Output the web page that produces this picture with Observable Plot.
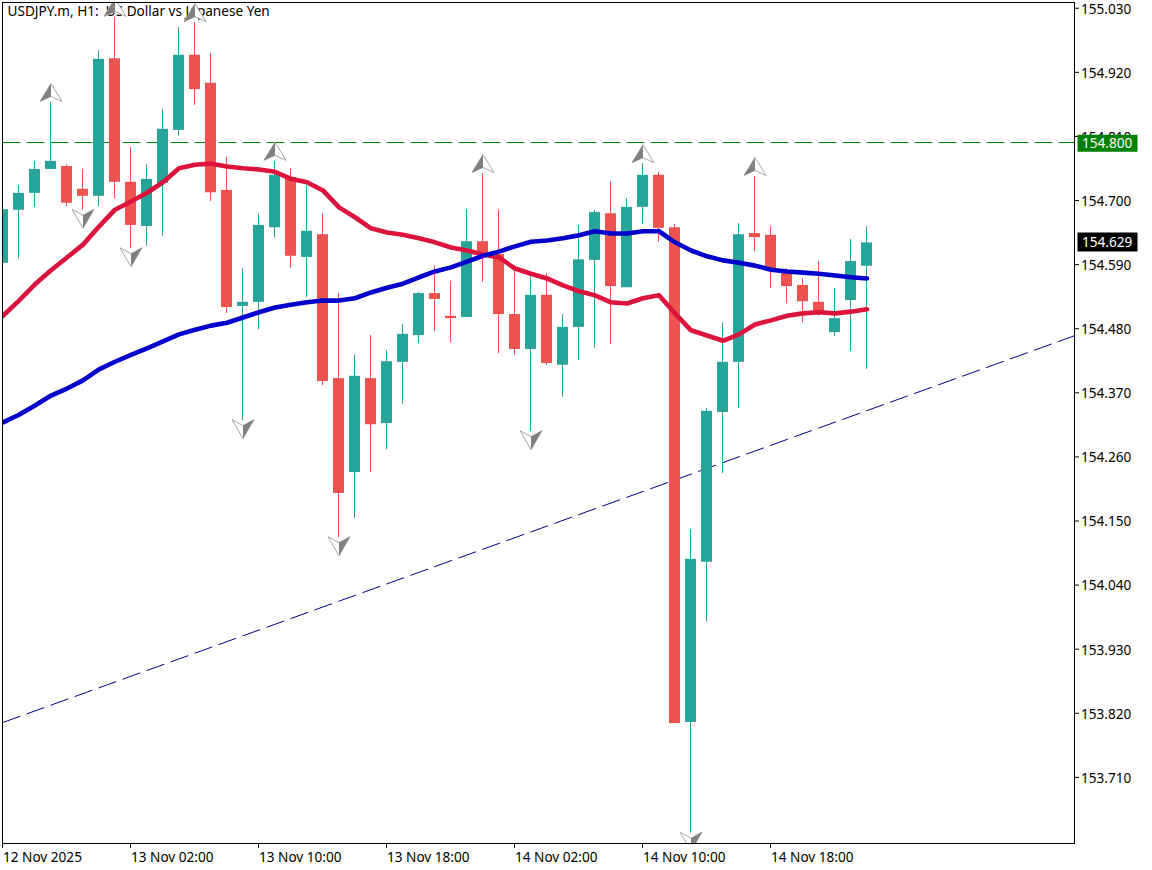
<!DOCTYPE html>
<html><head><meta charset="utf-8">
<style>html,body{margin:0;padding:0;background:#fff}svg{display:block}</style>
<script src="https://cdn.jsdelivr.net/npm/d3@7"></script>
<script src="https://cdn.jsdelivr.net/npm/@observablehq/plot@0.6"></script>
</head><body><div id="c"></div>
<script>
const open=[154.594,154.685,154.714,154.755,154.760,154.721,154.709,154.945,154.733,154.657,154.731,154.822,154.951,154.903,154.719,154.520,154.527,154.655,154.741,154.604,154.643,154.396,154.235,154.396,154.319,154.424,154.470,154.542,154.503,154.501,154.631,154.609,154.506,154.446,154.539,154.419,154.484,154.599,154.679,154.552,154.690,154.745,154.655,153.806,154.081,154.338,154.424,154.645,154.642,154.582,154.556,154.527,154.475,154.530,154.589];
const high=[154.702,154.727,154.769,154.870,154.763,154.755,154.959,155.016,154.793,154.763,154.858,154.999,155.007,154.954,154.776,154.585,154.678,154.769,154.757,154.727,154.679,154.542,154.437,154.470,154.444,154.489,154.544,154.590,154.563,154.686,154.748,154.685,154.590,154.573,154.576,154.506,154.659,154.685,154.734,154.705,154.765,154.750,154.661,154.137,154.345,154.492,154.662,154.743,154.657,154.585,154.568,154.597,154.551,154.635,154.657];
const low=[154.573,154.602,154.690,154.755,154.691,154.685,154.691,154.705,154.619,154.623,154.640,154.812,154.865,154.700,154.508,154.324,154.480,154.637,154.585,154.535,154.384,154.123,154.156,154.235,154.274,154.352,154.456,154.477,154.458,154.501,154.561,154.439,154.436,154.305,154.419,154.364,154.427,154.448,154.455,154.552,154.661,154.630,153.804,153.616,153.978,154.233,154.345,154.614,154.551,154.525,154.492,154.503,154.468,154.443,154.412];
const close=[154.686,154.714,154.755,154.769,154.697,154.709,154.944,154.733,154.659,154.738,154.824,154.951,154.892,154.715,154.518,154.527,154.659,154.745,154.606,154.649,154.391,154.199,154.400,154.317,154.425,154.472,154.542,154.532,154.499,154.631,154.607,154.506,154.446,154.539,154.422,154.484,154.600,154.681,154.554,154.690,154.745,154.654,153.804,154.086,154.340,154.424,154.643,154.638,154.582,154.554,154.528,154.510,154.499,154.597,154.629];
const redMA=[154.504,154.530,154.558,154.582,154.604,154.626,154.657,154.686,154.700,154.715,154.733,154.757,154.763,154.765,154.760,154.757,154.755,154.751,154.739,154.733,154.719,154.690,154.673,154.654,154.647,154.643,154.637,154.630,154.621,154.616,154.609,154.604,154.585,154.576,154.568,154.556,154.546,154.539,154.527,154.525,154.534,154.539,154.508,154.479,154.470,154.461,154.472,154.489,154.496,154.504,154.508,154.510,154.508,154.511,154.515];
const blueMA=[154.321,154.334,154.350,154.367,154.379,154.393,154.412,154.425,154.437,154.448,154.460,154.472,154.480,154.487,154.492,154.501,154.510,154.518,154.523,154.527,154.530,154.530,154.534,154.544,154.552,154.559,154.570,154.580,154.587,154.597,154.607,154.614,154.623,154.631,154.633,154.637,154.642,154.649,154.645,154.645,154.649,154.649,154.630,154.616,154.606,154.599,154.595,154.590,154.583,154.580,154.578,154.576,154.573,154.570,154.568];
const upFractals=[3,7,12,17,30,40,47];
const downFractals=[5,8,15,21,33,43];
const trendX=[0,67], trendY=[153.806,154.470];
const supportLevel=154.800, lastPrice=154.629;
const yTicks=[155.030,154.920,154.810,154.700,154.590,154.480,154.370,154.260,154.150,154.040,153.930,153.820,153.710];
const xTicks=[0,8,16,24,32,40,48];
const xTickLabels=["12 Nov 2025","13 Nov 02:00","13 Nov 10:00","13 Nov 18:00","14 Nov 02:00","14 Nov 10:00","14 Nov 18:00"];
const chartTitle="USDJPY.m, H1:  US Dollar vs Japanese Yen";

const UP="#26a69a", DOWN="#ef5350";
const font="'Noto Sans', sans-serif";
const idx=d3.range(open.length);
const col=i=>close[i]>=open[i]?UP:DOWN;
const poly=pts=>({draw(c){pts.forEach(([x,y],k)=>k?c.lineTo(x,y):c.moveTo(x,y));c.closePath();}});
const upAll=poly([[0,-19],[11,-1],[0,-6],[-11,-1]]), upHalf=poly([[0,-19],[0,-6],[-11,-1]]);
const dnAll=poly([[0,18],[11,-1],[0,5],[-11,-1]]), dnHalf=poly([[0,18],[11,-1],[0,5]]);
const tag=h=>poly([[-30,-h/2],[30,-h/2],[30,h/2],[-30,h/2]]);

const chart=Plot.plot({
  width:1152,height:870,
  marginLeft:2.5,marginRight:77.5,marginTop:2.5,marginBottom:26.5,
  style:{fontFamily:font,fontSize:"13.6px",background:"#fff",color:"#000",overflow:"visible"},
  x:{type:"linear",domain:[0,67]},
  y:{domain:[153.5974,155.0407]},
  marks:[
    Plot.text([chartTitle],{frameAnchor:"top-left",dx:4.5,dy:3,textAnchor:"start",lineAnchor:"top",fill:"#000",fontSize:13.6,text:d=>d}),
    Plot.ruleY([supportLevel],{stroke:"#008000",strokeWidth:1,strokeDasharray:"18,6",dy:-0.72}),
    Plot.line(trendX.map((x,k)=>[x,trendY[k]]),{x:d=>d[0],y:d=>d[1],stroke:"#00008b",strokeWidth:1,strokeDasharray:"18,7.5",clip:true}),
    Plot.ruleX(idx,{x:i=>i,y1:i=>low[i],y2:i=>high[i],stroke:col,strokeWidth:1,dx:-0.5,clip:true}),
    Plot.rect(idx,{x1:i=>i-0.34375,x2:i=>i+0.34375,y1:i=>Math.min(open[i],close[i]),y2:i=>Math.max(open[i],close[i]),fill:col,clip:true}),
    Plot.line(idx,{x:i=>i,y:i=>redMA[i],stroke:"#dc143c",strokeWidth:4.6,curve:"linear",clip:true}),
    Plot.line(idx,{x:i=>i,y:i=>blueMA[i],stroke:"#0000cd",strokeWidth:4.6,curve:"linear",clip:true}),
    Plot.dot(upFractals,{x:i=>i,y:i=>high[i],r:8,symbol:upAll,fill:"#fff",stroke:"#a8a8a8",strokeWidth:1,clip:true}),
    Plot.dot(upFractals,{x:i=>i,y:i=>high[i],r:8,symbol:upHalf,fill:"#808080",stroke:"none",clip:true}),
    Plot.dot(downFractals,{x:i=>i,y:i=>low[i],r:8,symbol:dnAll,fill:"#fff",stroke:"#a8a8a8",strokeWidth:1,clip:true}),
    Plot.dot(downFractals,{x:i=>i,y:i=>low[i],r:8,symbol:dnHalf,fill:"#808080",stroke:"none",clip:true}),
    Plot.axisY(yTicks,{anchor:"right",tickSize:4,text:null,label:null,stroke:"#000",dy:-1,dx:-0.5}),
    Plot.axisY(yTicks,{anchor:"right",tickSize:0,tickPadding:6,tickFormat:d3.format(".3f"),label:null,fill:"#000",fontSize:13.6}),
    Plot.axisX(xTicks,{anchor:"bottom",tickSize:5,text:null,label:null,stroke:"#000",dx:-0.5,dy:-0.5}),
    Plot.axisX(xTicks,{anchor:"bottom",tickSize:0,tickPadding:8,tickFormat:i=>xTickLabels[xTicks.indexOf(i)],label:null,textAnchor:"start",fill:"#000",fontSize:13.6}),
    Plot.frame({stroke:"#000",strokeWidth:1,dx:-0.5,dy:-0.5}),
    Plot.dot([supportLevel],{frameAnchor:"right",y:d=>d,r:8,dx:32.5,symbol:tag(17),fill:"#008000",stroke:"none"}),
    Plot.text([supportLevel],{frameAnchor:"right",y:d=>d,dx:7,text:d=>d.toFixed(3),textAnchor:"start",fill:"#fff",fontSize:13.6}),
    Plot.dot([lastPrice],{frameAnchor:"right",y:d=>d,r:8,dx:32.5,dy:-1,symbol:tag(19),fill:"#000",stroke:"none"}),
    Plot.text([lastPrice],{frameAnchor:"right",y:d=>d,dx:7,text:d=>d.toFixed(3),textAnchor:"start",fill:"#fff",fontSize:13.6})
  ]
});
document.getElementById("c").appendChild(chart);
</script></body></html>
